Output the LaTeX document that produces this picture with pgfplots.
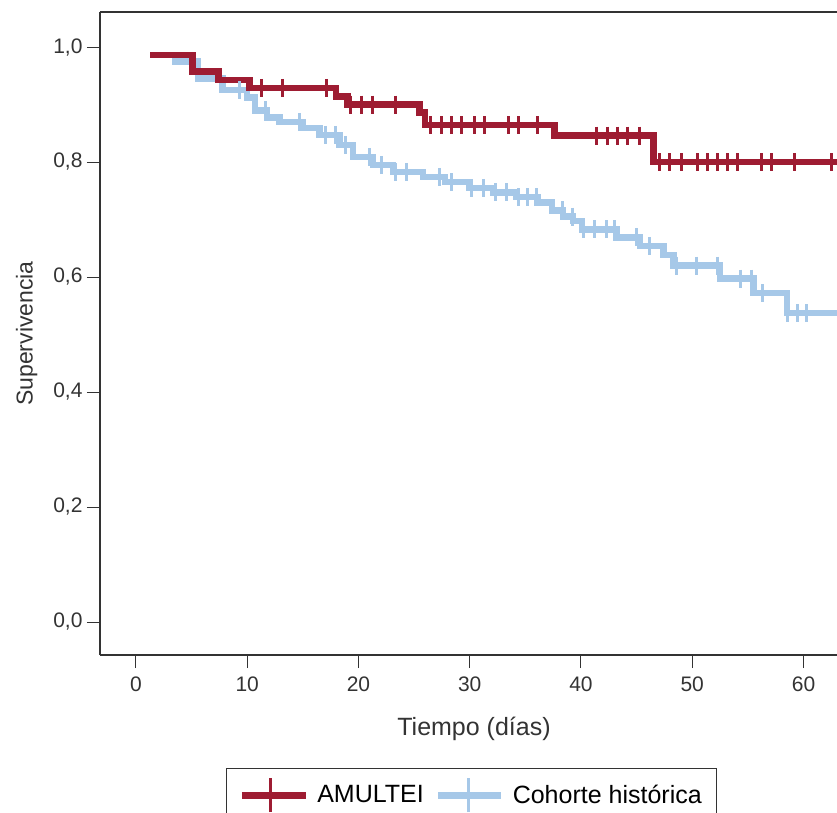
\documentclass[border=0pt]{standalone}
\usepackage{fontspec}
\setmainfont{Liberation Sans}
\usepackage{pgfplots}
\pgfplotsset{compat=1.18}
\definecolor{amred}{RGB}{158,28,50}
\definecolor{cohblue}{RGB}{166,200,232}
\begin{document}
\begin{tikzpicture}
\useasboundingbox (0pt,0pt) rectangle (837pt,812pt);
\begin{axis}[
  at={(100pt,800pt)}, anchor=north west,
  scale only axis, width=748pt, height=643pt,
  xmin=-3.23, xmax=64, ymin=-0.0574, ymax=1.0609,
  axis x line=box, axis y line=left,
  y axis line style={-},
  axis line style={line width=1.3pt, black!80},
  xtick={0,10,...,60}, ytick={0,0.2,...,1.0},
  tick align=outside, tick pos=left,
  major tick length=13pt,
  every tick/.style={line width=1pt, black!80},
  /pgf/number format/assume math mode=true,
  yticklabel style={xshift=-1pt, /pgf/number format/fixed, /pgf/number format/fixed zerofill, /pgf/number format/precision=1, /pgf/number format/use comma},
  ticklabel style={font=\fontsize{21}{25}\selectfont, text=black!80},
  xticklabel style={yshift=-5pt},
  xlabel={Tiempo (días)}, ylabel={Supervivencia},
  xlabel style={font=\fontsize{25}{29}\selectfont, text=black!80, yshift=-19pt},
  ylabel style={font=\fontsize{23}{27}\selectfont, text=black!80, yshift=9pt},
  legend columns=2,
  legend style={at={(0.4967,-0.1757)}, anchor=north, draw=black!80, line width=1.3pt,
    font=\fontsize{25}{29}\selectfont, inner xsep=12pt, inner ysep=8pt,
    nodes={inner sep=3pt},
    /tikz/every odd column/.append style={column sep=5pt},
    /tikz/every even column/.append style={column sep=8pt}},
  legend cell align=left,
]
\addlegendimage{legend image code/.code={
  \draw[amred, line width=7pt] (0pt,0pt) -- (64pt,0pt);
  \draw[amred, line width=3pt] (29pt,-17pt) -- (29pt,17pt);}}
\addlegendentry{AMULTEI}
\addlegendimage{legend image code/.code={
  \draw[cohblue, line width=7pt] (0pt,0pt) -- (63pt,0pt);
  \draw[cohblue, line width=3pt] (30pt,-17pt) -- (30pt,17pt);}}
\addlegendentry{Cohorte histórica}

% Cohorte histórica
\addplot[cohblue, line width=6.5pt, const plot, forget plot] coordinates {
(1.3,0.986) (3.5,0.975) (5.6,0.945) (7.8,0.925) (10.0,0.912) (10.7,0.890)
(11.8,0.877) (12.9,0.870) (15.0,0.859) (16.5,0.847) (18.3,0.830) (19.5,0.809)
(21.3,0.795) (23.1,0.783) (25.8,0.774) (27.8,0.765) (30.0,0.755) (32.1,0.747)
(34.2,0.739) (36.1,0.730) (37.4,0.716) (38.4,0.705) (39.3,0.697) (40.1,0.683)
(43.2,0.669) (45.3,0.654) (47.4,0.638) (48.3,0.620) (52.5,0.597) (55.5,0.572)
(58.5,0.537) (64.0,0.537)};
\addplot[cohblue, only marks, mark=|, mark size=9pt, mark options={line width=3pt}, forget plot] coordinates {
(9.3,0.925) (11.6,0.890) (14.7,0.870) (17.0,0.847) (17.9,0.847) (18.8,0.830)
(21.0,0.809) (22.1,0.795) (23.3,0.783) (24.3,0.783) (27.3,0.774) (28.4,0.765)
(30.2,0.755) (31.2,0.755) (32.3,0.747) (33.3,0.747) (34.4,0.739) (35.2,0.739)
(36.0,0.739) (38.3,0.716) (39.2,0.705) (40.2,0.683) (41.2,0.683) (42.3,0.683)
(43.0,0.683) (45.0,0.669) (46.2,0.654) (48.6,0.620) (50.4,0.620) (52.3,0.620)
(54.3,0.597) (55.3,0.597) (56.3,0.572) (58.6,0.537) (59.5,0.537) (60.3,0.537)};

% AMULTEI
\addplot[amred, line width=6.5pt, const plot, forget plot] coordinates {
(1.3,0.986) (5.1,0.957) (7.4,0.943) (10.2,0.929) (18.0,0.914) (19.0,0.900)
(25.5,0.886) (26.0,0.864) (37.6,0.846) (46.5,0.800) (64.0,0.800)};
\addplot[amred, only marks, mark=|, mark size=9pt, mark options={line width=3pt}, forget plot] coordinates {
(11.3,0.929) (13.2,0.929) (17.1,0.929) (19.3,0.900) (20.3,0.900) (21.3,0.900)
(23.3,0.900) (26.5,0.864) (27.5,0.864) (28.4,0.864) (29.3,0.864) (30.4,0.864)
(31.3,0.864) (33.5,0.864) (34.4,0.864) (36.1,0.864) (41.4,0.846) (42.4,0.846)
(43.3,0.846) (44.2,0.846) (45.3,0.846) (47.1,0.8) (48.0,0.8) (49.0,0.8)
(50.5,0.8) (51.4,0.8) (52.3,0.8) (53.2,0.8) (54.1,0.8) (56.2,0.8) (57.1,0.8)
(59.2,0.8) (62.5,0.8)};
\end{axis}
\end{tikzpicture}
\end{document}
